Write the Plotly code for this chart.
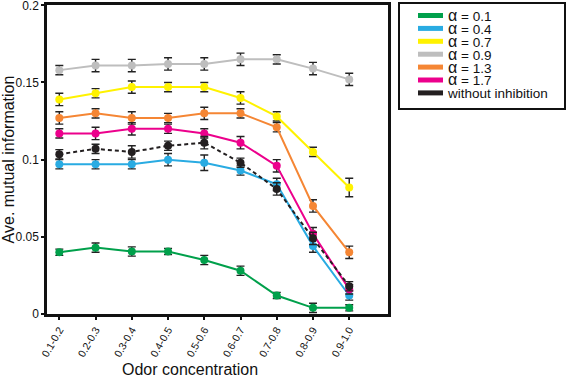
import plotly.graph_objects as go

categories = ["0.1-0.2", "0.2-0.3", "0.3-0.4", "0.4-0.5", "0.5-0.6",
              "0.6-0.7", "0.7-0.8", "0.8-0.9", "0.9-1.0"]

series_names = ["α = 0.1", "α = 0.4", "α = 0.7", "α = 0.9", "α = 1.3", "α = 1.7", "without inhibition"]
series_colors = ["#00A04B", "#29ABE2", "#FFF200", "#BEBEBE", "#F58634", "#EC008C", "#231F20"]

alpha_01 = [0.040, 0.043, 0.0405, 0.0405, 0.035, 0.028, 0.012, 0.004, 0.004]
alpha_04 = [0.097, 0.097, 0.097, 0.100, 0.098, 0.093, 0.084, 0.044, 0.012]
alpha_07 = [0.139, 0.143, 0.147, 0.147, 0.147, 0.140, 0.128, 0.105, 0.082]
alpha_09 = [0.158, 0.161, 0.161, 0.162, 0.162, 0.165, 0.165, 0.159, 0.152]
alpha_13 = [0.127, 0.130, 0.127, 0.127, 0.130, 0.130, 0.121, 0.070, 0.040]
alpha_17 = [0.117, 0.117, 0.120, 0.120, 0.117, 0.111, 0.096, 0.052, 0.016]
no_inhib = [0.1035, 0.107, 0.105, 0.109, 0.111, 0.098, 0.081, 0.049, 0.018]

err_01 = [0.002, 0.003, 0.003, 0.002, 0.003, 0.003, 0.002, 0.003, 0.002]
err_04 = [0.003, 0.003, 0.003, 0.004, 0.005, 0.003, 0.004, 0.004, 0.003]
err_07 = [0.004, 0.003, 0.004, 0.003, 0.003, 0.004, 0.003, 0.003, 0.006]
err_09 = [0.003, 0.004, 0.004, 0.004, 0.004, 0.004, 0.003, 0.004, 0.004]
err_13 = [0.004, 0.003, 0.004, 0.003, 0.004, 0.003, 0.003, 0.004, 0.004]
err_17 = [0.003, 0.004, 0.004, 0.003, 0.003, 0.004, 0.004, 0.004, 0.003]
err_ni = [0.003, 0.003, 0.004, 0.003, 0.004, 0.003, 0.004, 0.004, 0.003]

values = [alpha_01, alpha_04, alpha_07, alpha_09, alpha_13, alpha_17, no_inhib]
errors = [err_01, err_04, err_07, err_09, err_13, err_17, err_ni]

FONT = "Liberation Sans, Arial, sans-serif"

fig = go.Figure()
for i, (name, col, v, e) in enumerate(zip(series_names, series_colors, values, errors)):
    fig.add_trace(go.Scatter(
        x=list(range(len(categories))), y=v, name=name, mode="lines+markers",
        line=dict(color=col, width=2, dash="4px,3px" if i == 6 else "solid"),
        marker=dict(color=col, size=8),
        error_y=dict(type="data", array=e, visible=True, color="#222222", thickness=1.4, width=4),
        showlegend=False,
    ))

# Plot area in pixels: x 47..388, y 5..314
PW, PH = 341.0, 309.0
def px_x(p):
    return (p - 47) / PW
def px_y(p):
    return (314 - p) / PH

row_y = [15.5 + 12.9 * i for i in range(len(series_names))]

shapes = [dict(type="rect", xref="paper", yref="paper",
               x0=px_x(399), x1=px_x(565), y0=px_y(109), y1=px_y(3),
               line=dict(color="#111", width=2), fillcolor="white")]
lines_txt = []
for name, col, ry in zip(series_names, series_colors, row_y):
    shapes.append(dict(type="line", xref="paper", yref="paper",
                       x0=px_x(418), x1=px_x(443), y0=px_y(ry), y1=px_y(ry),
                       line=dict(color=col, width=5)))
    if name.startswith("α"):
        txt = "<span style='font-size:16px'>α</span><span style='font-size:13.5px'> = " + name.split("= ")[1] + "</span>"
    else:
        txt = "<span style='font-size:13.5px'>" + name + "</span>"
    lines_txt.append(txt)

annotations = [dict(xref="paper", yref="paper", x=px_x(446), y=px_y(sum(row_y) / len(row_y)),
                    text="<br>".join(lines_txt), showarrow=False, xanchor="left", yanchor="middle",
                    align="left", borderpad=0,
                    font=dict(size=9.92, color="#111", family=FONT))]

annotations.append(dict(xref="paper", yref="paper", x=px_x(190), y=px_y(369),
                        text="Odor concentration", showarrow=False,
                        xanchor="center", yanchor="middle",
                        font=dict(size=16, color="#111", family=FONT)))

fig.update_layout(
    width=566, height=384,
    margin=dict(l=47, r=178, t=5, b=70, autoexpand=False),
    paper_bgcolor="white", plot_bgcolor="white",
    font=dict(family=FONT, color="#111"),
    shapes=shapes, annotations=annotations,
    xaxis=dict(
        range=[-0.34, 9.07], tickmode="array",
        tickvals=list(range(len(categories))), ticktext=categories,
        tickangle=-60, tickfont=dict(size=10.5, family=FONT, color="#111"),
        showline=True, linecolor="#111", linewidth=2.5, mirror=True,
        ticks="outside", ticklen=3, tickwidth=1.5, tickcolor="#111",
        showgrid=False, zeroline=False, automargin=False,
    ),
    yaxis=dict(
        range=[0, 0.2002], tickvals=[0, 0.05, 0.1, 0.15, 0.2],
        ticktext=["0", "0.05", "0.1", "0.15", "0.2"],
        tickfont=dict(size=12, family=FONT, color="#111"),
        ticklabeloverflow="allow",
        showline=True, linecolor="#111", linewidth=2.5, mirror=True,
        ticks="outside", ticklen=3, tickwidth=1.5, tickcolor="#111",
        showgrid=False, zeroline=False, automargin=False,
        title=dict(text="Ave. mutual information", font=dict(size=16, family=FONT, color="#111"), standoff=2),
    ),
)

fig.write_html("out.html", config={"displayModeBar": False},
               post_script="document.body.style.margin='0';document.body.style.padding='0';document.body.style.overflow='hidden';")
